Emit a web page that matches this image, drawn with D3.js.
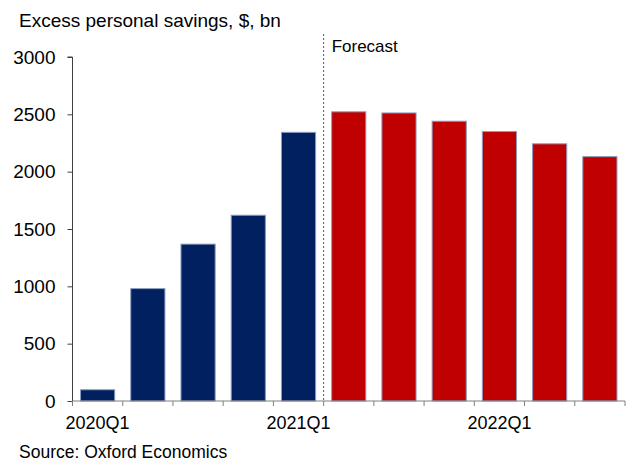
<!DOCTYPE html>
<html lang="en">
<head>
  <meta charset="UTF-8">
  <title>Excess personal savings</title>
  <script src="https://d3js.org/d3.v7.min.js"></script>
  <style>
    body {
      margin: 0;
      background: #fff;
      font-family: "Liberation Sans", Arial, sans-serif;
    }
    svg text {
      fill: #000;
    }
  </style>
</head>
<body>
  <svg width="630" height="463"></svg>

  <script>
    const quarters = ["2020Q1", "2020Q2", "2020Q3", "2020Q4", "2021Q1", "2021Q2",
                      "2021Q3", "2021Q4", "2022Q1", "2022Q2", "2022Q3"];
    const savings = [98, 980, 1368, 1620, 2343, 2522, 2512, 2440, 2350, 2243, 2131];
    const forecastFrom = "2021Q2";
    const labelledQuarters = ["2020Q1", "2021Q1", "2022Q1"];
    const yTicks = [0, 500, 1000, 1500, 2000, 2500, 3000];

    const svg = d3.select("svg");
    const plotLeft = 72.5, plotRight = 625, plotTop = 57, plotBottom = 401;

    const x = d3.scaleBand()
      .domain(quarters)
      .range([plotLeft, plotRight])
      .paddingInner(0.32)
      .paddingOuter(0.16);

    const y = d3.scaleLinear()
      .domain([0, 3000])
      .range([plotBottom, plotTop]);

    // title
    svg.append("text")
      .attr("x", 19)
      .attr("y", 27)
      .style("font-size", "19px")
      .text("Excess personal savings, $, bn");

    // bars
    const isForecast = d => quarters.indexOf(d) >= quarters.indexOf(forecastFrom);
    svg.append("g")
      .selectAll("rect")
      .data(quarters)
      .enter().append("rect")
      .attr("x", d => x(d))
      .attr("y", (d, i) => y(savings[i]))
      .attr("width", x.bandwidth())
      .attr("height", (d, i) => y(0) - y(savings[i]))
      .attr("fill", d => isForecast(d) ? "#c00000" : "#002060")
      .attr("stroke", "#8a9bbf")
      .attr("stroke-width", 1);

    // forecast divider
    const step = x.step();
    const divX = x(forecastFrom) - step * x.paddingInner() / 2;
    svg.append("line")
      .attr("x1", divX).attr("x2", divX)
      .attr("y1", 34).attr("y2", plotBottom)
      .attr("stroke", "#595959")
      .attr("stroke-width", 1)
      .attr("stroke-dasharray", "2,2");

    svg.append("text")
      .attr("x", divX + 8)
      .attr("y", 51.5)
      .style("font-size", "17px")
      .text("Forecast");

    // y axis
    const yAxis = svg.append("g")
      .attr("transform", `translate(${plotLeft},0)`)
      .call(d3.axisLeft(y).tickValues(yTicks).tickSize(5).tickPadding(12).tickFormat(d3.format("d")));
    yAxis.select(".domain").attr("stroke", "#404040").attr("d", `M-5,${plotTop}H0V${plotBottom}`);
    yAxis.selectAll(".tick line").attr("stroke", "#404040");
    yAxis.selectAll("text").style("font-size", "19px").style("font-family", "Liberation Sans, Arial, sans-serif");

    // x axis: ticks between categories
    const boundaries = quarters.map(q => x(q) - step * x.paddingInner() / 2).concat([plotRight]);
    const xg = svg.append("g");
    xg.append("line")
      .attr("x1", plotLeft).attr("x2", plotRight)
      .attr("y1", plotBottom).attr("y2", plotBottom)
      .attr("stroke", "#808080");
    xg.selectAll("line.tick")
      .data(boundaries)
      .enter().append("line")
      .attr("class", "tick")
      .attr("x1", d => d).attr("x2", d => d)
      .attr("y1", plotBottom).attr("y2", plotBottom + 5)
      .attr("stroke", "#808080");
    xg.selectAll("text")
      .data(labelledQuarters)
      .enter().append("text")
      .attr("x", d => x(d) + x.bandwidth() / 2)
      .attr("y", 429)
      .attr("text-anchor", "middle")
      .style("font-size", "18px")
      .text(d => d);

    // source
    svg.append("text")
      .attr("x", 19)
      .attr("y", 458)
      .style("font-size", "17.5px")
      .text("Source: Oxford Economics");
  </script>
</body>
</html>
